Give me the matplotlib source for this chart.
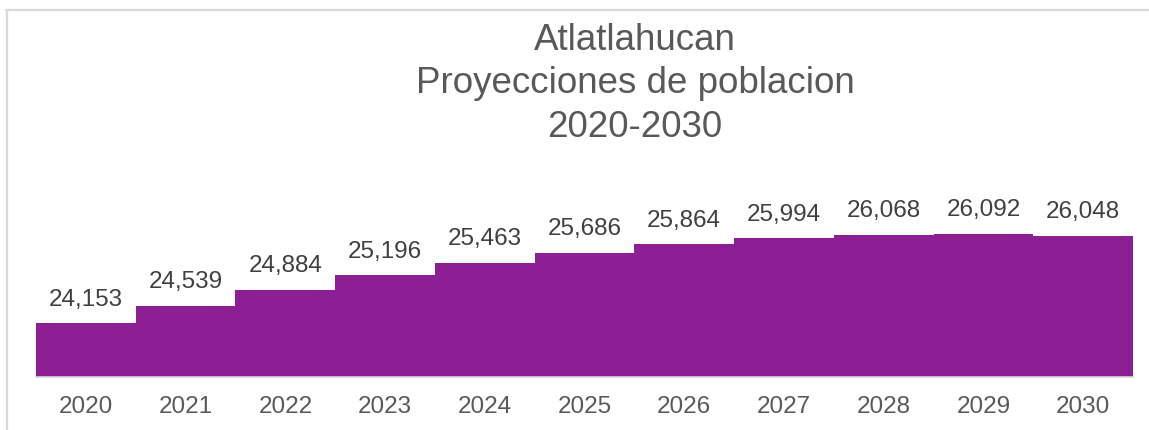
import matplotlib
matplotlib.use("Agg")
import matplotlib.pyplot as plt
from matplotlib.lines import Line2D

# Datos
anios = ["2020", "2021", "2022", "2023", "2024", "2025", "2026", "2027", "2028", "2029", "2030"]
poblacion = [24153, 24539, 24884, 25196, 25463, 25686, 25864, 25994, 26068, 26092, 26048]
titulo = ["Atlatlahucan", "Proyecciones de poblacion", "2020-2030"]

plt.rcParams["font.family"] = ["Liberation Sans", "DejaVu Sans"]

W, H = 1149, 430
fig = plt.figure(figsize=(W / 100, H / 100), dpi=100)

# area del grafico en pixeles
x0, x1, yb, yt = 36, 1133, 376.5, 192
ax = fig.add_axes([x0 / W, (H - yb) / H, (x1 - x0) / W, (yb - yt) / H])

barras = ax.bar(range(len(anios)), poblacion, width=1.0, color="#8B1F93", linewidth=0)
ax.bar_label(barras, labels=[f"{v:,}" for v in poblacion], padding=9,
             fontsize=17.5, color="#404040")

ax.set_xlim(-0.5, len(anios) - 0.5)
ax.set_ylim(23000, 27000)
ax.set_xticks(range(len(anios)))
ax.set_xticklabels(anios, fontsize=17.5, color="#595959")
ax.tick_params(axis="x", length=0, pad=14)
ax.set_yticks([])
for s in ["top", "left", "right"]:
    ax.spines[s].set_visible(False)
ax.spines["bottom"].set_color("#D9D9D9")
ax.spines["bottom"].set_linewidth(1.2)

# Titulo en tres lineas (linea base en pixeles)
for txt, y in zip(titulo, [50, 93, 137]):
    fig.text(635 / W, 1 - y / H, txt, ha="center", va="baseline", fontsize=26.5, color="#595959")

# marco del grafico (recortado)
fig.add_artist(Line2D([6 / W, 1], [1 - 10 / H, 1 - 10 / H], color="#D9D9D9", lw=1.6))
fig.add_artist(Line2D([7 / W, 7 / W], [0, 1 - 10 / H], color="#D9D9D9", lw=1.6))

fig.savefig("out.png", dpi=100)
